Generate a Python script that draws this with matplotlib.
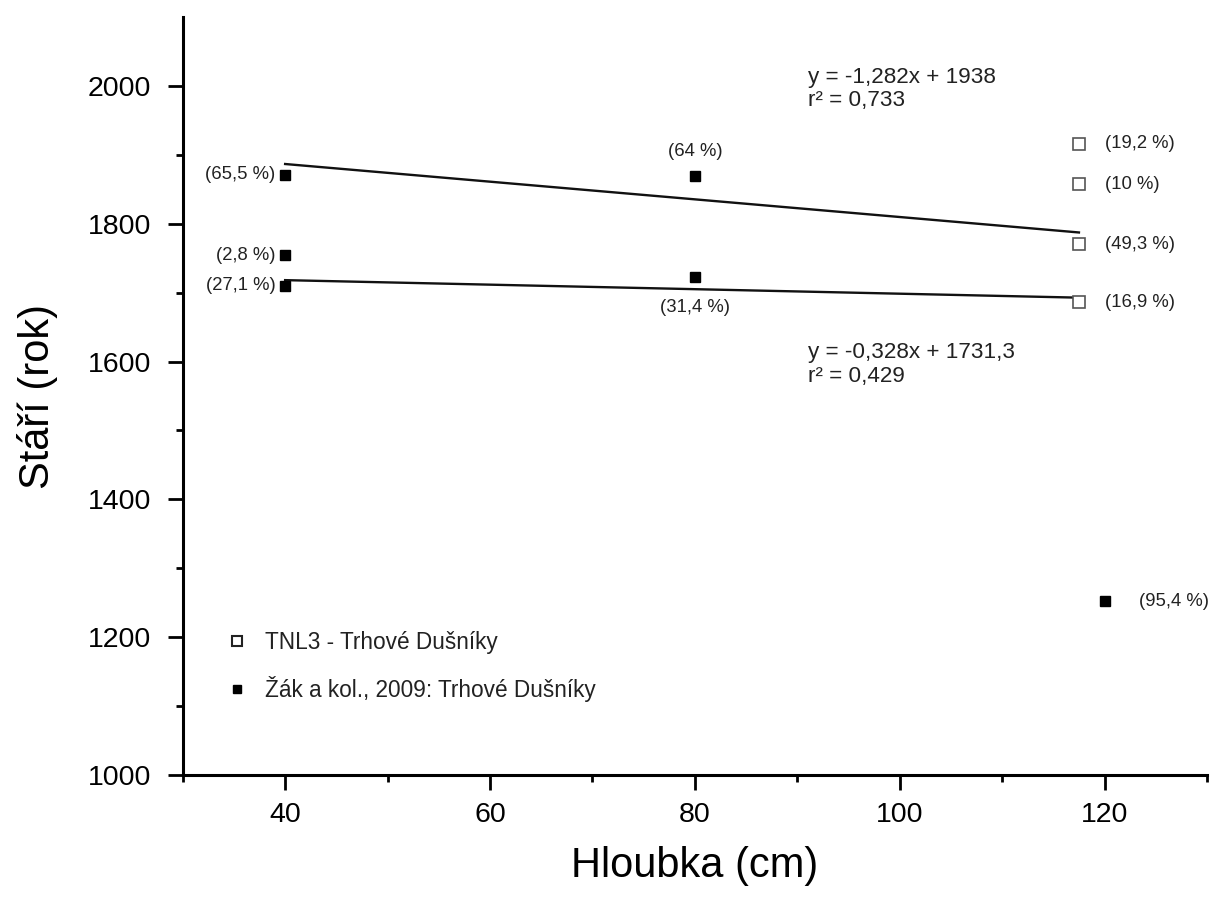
import numpy as np
import matplotlib
matplotlib.use("Agg")
import matplotlib.pyplot as plt
from matplotlib.lines import Line2D

plt.rcParams['font.family'] = ['Liberation Sans', 'DejaVu Sans']

# TNL3 - open squares (depth cm, age, probability label)
tnl_depth = [117.5, 117.5, 117.5, 117.5]
tnl_age = [1916, 1857, 1770, 1686]
tnl_prob = ['(19,2 %)', '(10 %)', '(49,3 %)', '(16,9 %)']

# Žák a kol., 2009 - filled squares
zak_depth = [40, 40, 40, 80, 80, 120]
zak_age = [1871, 1754, 1710, 1870, 1723, 1252]
zak_prob = ['(65,5 %)', '(2,8 %)', '(27,1 %)', '(64 %)', '(31,4 %)', '(95,4 %)']

# linear fits: slope, intercept
fit_upper = (-1.282, 1938.0)
fit_lower = (-0.328, 1731.3)
fit_range = [40, 117.5]
eq_upper = ['y = -1,282x + 1938', 'r² = 0,733']
eq_lower = ['y = -0,328x + 1731,3', 'r² = 0,429']

legend_labels = ['TNL3 - Trhové Dušníky', 'Žák a kol., 2009: Trhové Dušníky']

fig = plt.figure(figsize=(12.1, 8.97), dpi=100)
ax = fig.add_axes([0.151, 0.136, 0.8465, 0.845])

# regression lines
xs = np.array(fit_range)
for slope, icpt in (fit_upper, fit_lower):
    ax.plot(xs, slope * xs + icpt, color='#111111', lw=1.7, zorder=2)

ax.plot(tnl_depth, tnl_age, ls='none', marker='s', ms=9.3, mfc='white',
        mec='#555555', mew=1.2, zorder=3)
ax.plot(zak_depth, zak_age, ls='none', marker='s', ms=7.8, mfc='black',
        mec='black', zorder=3)

txt_kw = dict(textcoords='offset points', fontsize=13.3, color='#222222')

# probability labels for TNL3 (right of markers)
for x, y, s in zip(tnl_depth, tnl_age, tnl_prob):
    ax.annotate(s, (x, y), xytext=(18.5, 0), ha='left', va='center', **txt_kw)

# probability labels for Žák a kol.
offsets = [(-7, 0, 'right'), (-7, 0, 'right'), (-7, 0, 'right'),
           (0, 17, 'center'), (0, -22, 'center'), (25, 0, 'left')]
for x, y, s, (dx, dy, ha) in zip(zak_depth, zak_age, zak_prob, offsets):
    ax.annotate(s, (x, y), xytext=(dx, dy), ha=ha, va='center', **txt_kw)

# regression equations (baseline of each line)
for lines, (x0, y0) in ((eq_upper, (91, 2005)), (eq_lower, (91, 1605))):
    ax.text(x0, y0, lines[0], fontsize=16.2, color='#222222', ha='left', va='baseline')
    ax.text(x0, y0 - 34, lines[1], fontsize=16.2, color='#222222', ha='left', va='baseline')

handles = [
    Line2D([], [], ls='none', marker='s', ms=6.5, mfc='white', mec='#222222', mew=1.5),
    Line2D([], [], ls='none', marker='s', ms=6, mfc='black', mec='black'),
]
ax.legend(handles, legend_labels, loc='upper left', bbox_to_anchor=(0.043, 0.19),
          frameon=False, fontsize=16.3, handlelength=0.9, handletextpad=0.78,
          labelspacing=0.98, borderaxespad=0, borderpad=0, labelcolor='#222222')

ax.set_xlim(30, 130)
ax.set_ylim(1000, 2100)
ax.set_xticks([40, 60, 80, 100, 120])
ax.set_xticks([30, 50, 70, 90, 110, 130], minor=True)
ax.set_yticks([1000, 1200, 1400, 1600, 1800, 2000])
ax.set_yticks([1100, 1300, 1500, 1700, 1900], minor=True)

for side in ('top', 'right'):
    ax.spines[side].set_visible(False)
for side in ('left', 'bottom'):
    ax.spines[side].set_linewidth(2.2)

ax.tick_params(which='major', length=10.5, width=2.0, labelsize=20.5)
ax.tick_params(which='minor', length=5, width=2.0)
ax.tick_params(axis='y', which='major', pad=12)
ax.tick_params(axis='x', which='major', pad=9)

ax.set_xlabel('Hloubka (cm)', fontsize=30, labelpad=13)
ax.set_ylabel('Stáří (rok)', fontsize=30, labelpad=22)

fig.savefig('out.png', dpi=100)
